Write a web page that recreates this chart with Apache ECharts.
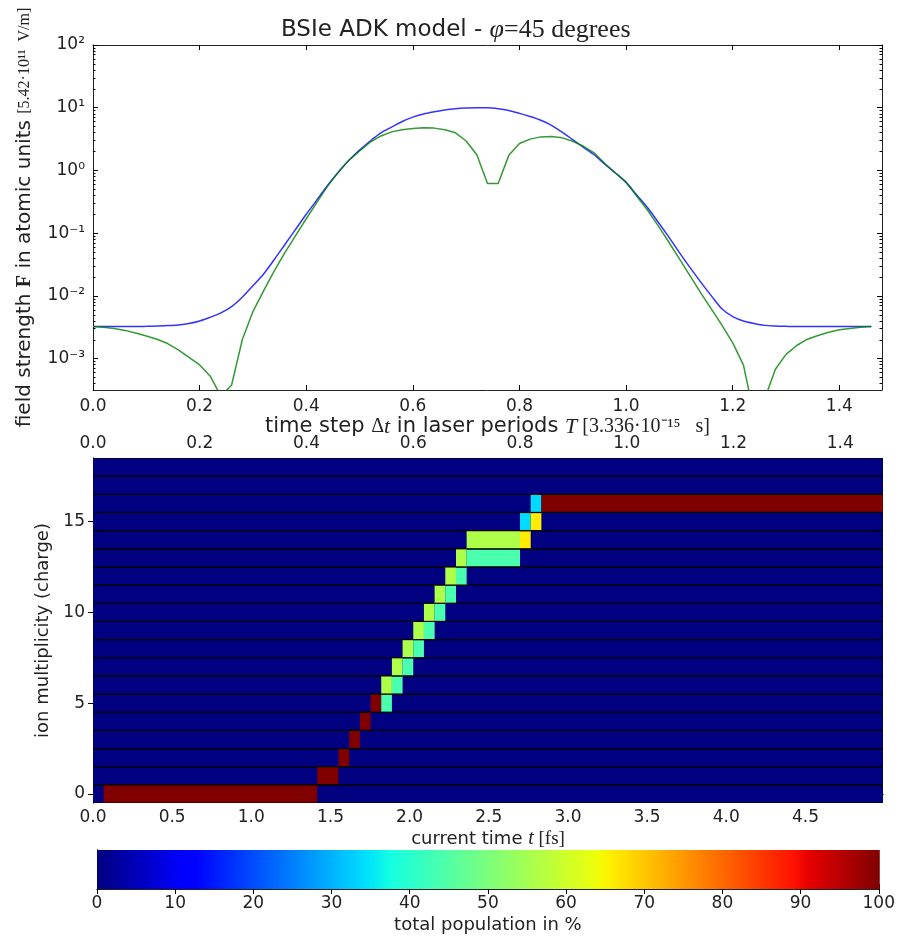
<!DOCTYPE html>
<html>
<head>
<meta charset="utf-8">
<script src="https://cdn.jsdelivr.net/npm/echarts@6/dist/echarts.min.js"></script>
<style>
  html, body { margin: 0; padding: 0; background: #fff; }
  #chart { width: 898px; height: 937px; }
</style>
</head>
<body>
<div id="chart"></div>
<script>
// time steps in laser periods (top plot)
const timeSteps = [0.00, 0.02, 0.04, 0.06, 0.08, 0.10, 0.12, 0.14, 0.16, 0.18,
  0.20, 0.22, 0.24, 0.26, 0.28, 0.30, 0.32, 0.34, 0.36, 0.38,
  0.40, 0.42, 0.44, 0.46, 0.48, 0.50, 0.52, 0.54, 0.56, 0.58,
  0.60, 0.62, 0.64, 0.66, 0.68, 0.70, 0.72, 0.74, 0.76, 0.78,
  0.80, 0.82, 0.84, 0.86, 0.88, 0.90, 0.92, 0.94, 0.96, 0.98,
  1.00, 1.02, 1.04, 1.06, 1.08, 1.10, 1.12, 1.14, 1.16, 1.18,
  1.20, 1.22, 1.24, 1.26, 1.28, 1.30, 1.32, 1.34, 1.36, 1.38,
  1.40, 1.42, 1.44, 1.46]

// field strength envelope (blue)
const fieldEnvelope = [3.24e-3, 3.24e-3, 3.24e-3, 3.24e-3, 3.24e-3, 3.27e-3, 3.31e-3, 3.36e-3, 3.45e-3, 3.63e-3,
  3.98e-3, 4.57e-3, 5.37e-3, 6.76e-3, 9.55e-3, 1.45e-2, 2.24e-2, 3.80e-2, 6.61e-2, 0.115,
  0.200, 0.339, 0.575, 0.933, 1.45, 2.11, 2.95, 3.98, 4.90, 6.03,
  7.08, 7.94, 8.61, 9.23, 9.66, 9.89, 10.0, 10.0, 9.66, 9.02,
  8.13, 7.24, 6.31, 5.25, 4.07, 3.09, 2.34, 1.78, 1.26, 0.912,
  0.646, 0.407, 0.257, 0.151, 8.71e-2, 4.90e-2, 2.82e-2, 1.66e-2, 1.00e-2, 6.17e-3,
  4.68e-3, 3.98e-3, 3.63e-3, 3.39e-3, 3.31e-3, 3.27e-3, 3.24e-3, 3.24e-3, 3.24e-3, 3.24e-3,
  3.24e-3, 3.24e-3, 3.24e-3, 3.24e-3]

// field strength |F| (green)
const fieldAbs = [3.24e-3, 3.16e-3, 3.02e-3, 2.82e-3, 2.57e-3, 2.29e-3, 2.04e-3, 1.74e-3, 1.38e-3, 1.05e-3,
  7.94e-4, 5.25e-4, 2.51e-4, 3.80e-4, 2.00e-3, 5.62e-3, 1.20e-2, 2.51e-2, 4.90e-2, 9.12e-2,
  0.170, 0.309, 0.562, 0.933, 1.45, 2.04, 2.82, 3.55, 4.12, 4.47,
  4.68, 4.79, 4.73, 4.47, 3.98, 2.95, 1.78, 0.617, 0.617, 1.74,
  2.69, 3.16, 3.43, 3.47, 3.31, 2.92, 2.43, 1.91, 1.29, 0.912,
  0.646, 0.389, 0.234, 0.132, 7.24e-2, 3.89e-2, 2.09e-2, 1.12e-2, 6.17e-3, 3.39e-3,
  1.78e-3, 7.94e-4, 1.26e-4, 2.29e-4, 6.76e-4, 1.17e-3, 1.62e-3, 2.04e-3, 2.34e-3, 2.63e-3,
  2.88e-3, 3.02e-3, 3.16e-3, 3.24e-3]

// ion charge states shown in the population map
const charges = [0, 1, 2, 3, 4, 5, 6, 7, 8, 9, 10, 11, 12, 13, 14, 15, 16, 17, 18]

// populated segments: [start period, end period, charge, population %]
const populations = [
  [0.02, 0.42, 0, 100],
  [0.42, 0.46, 1, 100],
  [0.46, 0.48, 2, 100],
  [0.48, 0.50, 3, 100],
  [0.50, 0.52, 4, 100],
  [0.52, 0.54, 5, 100], [0.54, 0.56, 5, 44],
  [0.54, 0.56, 6, 56], [0.56, 0.58, 6, 44],
  [0.56, 0.58, 7, 56], [0.58, 0.60, 7, 44],
  [0.58, 0.60, 8, 56], [0.60, 0.62, 8, 44],
  [0.60, 0.62, 9, 56], [0.62, 0.64, 9, 44],
  [0.62, 0.64, 10, 56], [0.64, 0.66, 10, 44],
  [0.64, 0.66, 11, 56], [0.66, 0.68, 11, 44],
  [0.66, 0.68, 12, 56], [0.68, 0.70, 12, 44],
  [0.68, 0.70, 13, 56], [0.70, 0.80, 13, 44],
  [0.70, 0.80, 14, 56], [0.80, 0.82, 14, 66],
  [0.80, 0.82, 15, 34], [0.82, 0.84, 15, 66],
  [0.82, 0.84, 16, 34], [0.84, 1.48, 16, 100]
]

// tick labels
const decadeTicks = [1e-3, 1e-2, 1e-1, 1, 10, 100]
const decadeLabels = ['10⁻³', '10⁻²', '10⁻¹', '10⁰', '10¹', '10²']
const chargeTicks = [0, 5, 10, 15]

// jet colormap (matplotlib segment data)
const jetR = [[0, 0], [0.35, 0], [0.66, 1], [0.89, 1], [1, 0.5]]
const jetG = [[0, 0], [0.125, 0], [0.375, 1], [0.64, 1], [0.91, 0], [1, 0]]
const jetB = [[0, 0.5], [0.11, 1], [0.34, 1], [0.65, 0], [1, 0]]
const seg = (pts, x) => {
  for (let i = 1; i < pts.length; i++) {
    if (x <= pts[i][0]) {
      const [x0, y0] = pts[i - 1], [x1, y1] = pts[i]
      return y0 + (y1 - y0) * (x - x0) / (x1 - x0)
    }
  }
  return pts[pts.length - 1][1]
}
const jet = v => {
  const x = Math.max(0, Math.min(1, v))
  const c = [jetR, jetG, jetB].map(p => Math.round(seg(p, x) * 255))
  return `rgb(${c[0]},${c[1]},${c[2]})`
}

// minor ticks of the log axis
const minorTicks = []
for (let e = -4; e <= 1; e++) {
  for (let m = 2; m <= 9; m++) {
    const v = m * Math.pow(10, e)
    if (v > Math.pow(10, -3.5) && v < 100) minorTicks.push(v)
  }
}

const font = 'DejaVu Sans'
const serif = 'Liberation Serif'
const txt = '#222'
const labelStyle = { fontFamily: font, fontSize: 17, color: txt }
const nameStyle = { fontFamily: font, fontSize: 18, color: txt }
const line = { show: true, lineStyle: { color: '#222', width: 1 } }
const tick = (len) => ({ show: true, inside: true, length: len, lineStyle: { color: '#000', width: 1 } })

const chart = echarts.init(document.getElementById('chart'), null, { renderer: 'canvas' })

const heatData = charges.map(q => [0, 1.48, q, 0]).concat(populations)
const cbData = []
for (let v = 0; v < 100; v += 0.25) cbData.push([v, v + 0.25, 0, v + 0.125])

chart.setOption({
  animation: false,
  backgroundColor: '#fff',
  title: {
    text: '{a|BSIe ADK model - }{b|φ}{c|=45 degrees}',
    left: 276,
    top: 12,
    textStyle: {
      rich: {
        a: { fontFamily: font, fontSize: 23, fontWeight: 'normal', color: txt },
        b: { fontFamily: serif, fontSize: 26, fontStyle: 'italic', fontWeight: 'normal', color: txt },
        c: { fontFamily: serif, fontSize: 26, fontWeight: 'normal', color: txt }
      }
    }
  },
  grid: [
    { left: 93, top: 45, width: 789, height: 345 },
    { left: 93, top: 458, width: 790, height: 345 },
    { left: 97, top: 850, width: 786, height: 39 }
  ],
  xAxis: [
    {
      gridIndex: 0, type: 'value', position: 'bottom', min: 0, max: 1.48, interval: 0.2,
      axisLine: line, axisTick: tick(5), splitLine: { show: false },
      axisLabel: Object.assign({ margin: 8, formatter: v => v.toFixed(1), showMaxLabel: false }, labelStyle),
      name: '{s|time step }{m|Δ}{i|t}{s| in laser periods }{i|T}{m| [3.336·10⁻¹⁵   s]}',
      nameLocation: 'middle', nameGap: 21,
      nameTextStyle: {
        rich: {
          s: { fontFamily: font, fontSize: 21, color: txt },
          i: { fontFamily: serif, fontSize: 22, fontStyle: 'italic', color: txt },
          m: { fontFamily: serif, fontSize: 20, color: txt }
        }
      }
    },
    {
      gridIndex: 0, type: 'value', position: 'top', min: 0, max: 1.48, interval: 0.2,
      axisLine: line, axisTick: tick(5), axisLabel: { show: false }, splitLine: { show: false }
    },
    {
      gridIndex: 1, type: 'value', position: 'top', min: 0, max: 1.48, interval: 0.2,
      axisLine: line, axisTick: tick(5), splitLine: { show: false },
      axisLabel: Object.assign({ margin: 6, formatter: v => v.toFixed(1), showMaxLabel: false }, labelStyle)
    },
    {
      gridIndex: 1, type: 'value', position: 'bottom', min: 0, max: 4.99, interval: 0.5,
      axisLine: line, axisTick: tick(5), splitLine: { show: false },
      axisLabel: Object.assign({ margin: 6, formatter: v => v.toFixed(1), showMaxLabel: false }, labelStyle),
      name: '{s|current time }{i|t}{m| [fs]}',
      nameLocation: 'middle', nameGap: 26,
      nameTextStyle: {
        rich: {
          s: { fontFamily: font, fontSize: 18, color: txt },
          i: { fontFamily: serif, fontSize: 20, fontStyle: 'italic', color: txt },
          m: { fontFamily: serif, fontSize: 19, color: txt }
        }
      }
    },
    {
      gridIndex: 2, type: 'value', position: 'bottom', min: 0, max: 100, interval: 10,
      axisLine: line, axisTick: tick(5), splitLine: { show: false },
      axisLabel: Object.assign({ margin: 6 }, labelStyle),
      name: 'total population in %', nameLocation: 'middle', nameGap: 27,
      nameTextStyle: nameStyle
    },
    {
      gridIndex: 2, type: 'value', position: 'top', min: 0, max: 100, interval: 10,
      axisLine: line, axisTick: tick(5), axisLabel: { show: false }, splitLine: { show: false }
    }
  ],
  yAxis: [
    {
      gridIndex: 0, type: 'log', position: 'left', min: Math.pow(10, -3.5), max: 100,
      axisLine: line, splitLine: { show: false },
      axisTick: Object.assign(tick(5), { customValues: decadeTicks }),
      axisLabel: Object.assign({
        margin: 8,
        customValues: decadeTicks,
        formatter: v => {
          const i = decadeTicks.findIndex(d => Math.abs(Math.log10(d) - Math.log10(v)) < 1e-6)
          return i >= 0 ? decadeLabels[i] : ''
        }
      }, labelStyle),
      name: '{s|field strength }{b|F}{s| in atomic units }{m|[5.42·10¹¹  V/m]}',
      nameLocation: 'middle', nameRotate: 90, nameGap: 58,
      nameTextStyle: {
        rich: {
          s: { fontFamily: font, fontSize: 20, color: txt },
          b: { fontFamily: serif, fontSize: 20, fontWeight: 'bold', color: txt },
          m: { fontFamily: serif, fontSize: 16, color: txt }
        }
      }
    },
    {
      gridIndex: 0, type: 'log', position: 'left', min: Math.pow(10, -3.5), max: 100,
      axisLine: { show: false }, splitLine: { show: false }, axisLabel: { show: false },
      axisTick: Object.assign(tick(2.5), { customValues: minorTicks })
    },
    {
      gridIndex: 0, type: 'log', position: 'right', min: Math.pow(10, -3.5), max: 100,
      axisLine: line, splitLine: { show: false }, axisLabel: { show: false },
      axisTick: Object.assign(tick(5), { customValues: decadeTicks })
    },
    {
      gridIndex: 0, type: 'log', position: 'right', min: Math.pow(10, -3.5), max: 100,
      axisLine: { show: false }, splitLine: { show: false }, axisLabel: { show: false },
      axisTick: Object.assign(tick(2.5), { customValues: minorTicks })
    },
    {
      gridIndex: 1, type: 'value', position: 'left', min: -0.5, max: 18.5,
      axisLine: line, splitLine: { show: false },
      axisTick: Object.assign(tick(5), { customValues: chargeTicks }),
      axisLabel: Object.assign({ margin: 8, customValues: chargeTicks }, labelStyle),
      name: 'ion multiplicity (charge)', nameLocation: 'middle', nameRotate: 90, nameGap: 39,
      nameTextStyle: nameStyle
    },
    {
      gridIndex: 1, type: 'value', position: 'right', min: -0.5, max: 18.5,
      axisLine: line, splitLine: { show: false }, axisLabel: { show: false },
      axisTick: Object.assign(tick(5), { customValues: chargeTicks })
    },
    {
      gridIndex: 2, type: 'value', position: 'left', min: 0, max: 1,
      axisLine: line, axisTick: { show: false }, axisLabel: { show: false }, splitLine: { show: false }
    },
    {
      gridIndex: 2, type: 'value', position: 'right', min: 0, max: 1,
      axisLine: line, axisTick: { show: false }, axisLabel: { show: false }, splitLine: { show: false }
    }
  ],
  series: [
    {
      type: 'line', xAxisIndex: 0, yAxisIndex: 0, showSymbol: false, clip: true,
      smooth: 0.3,
      data: timeSteps.map((t, i) => [t, fieldEnvelope[i]]),
      lineStyle: { color: '#0000ff', width: 1.5, opacity: 0.8 }
    },
    {
      type: 'line', xAxisIndex: 0, yAxisIndex: 0, showSymbol: false, clip: true,
      data: timeSteps.map((t, i) => [t, fieldAbs[i]]),
      lineStyle: { color: '#008000', width: 1.5, opacity: 0.8 }
    },
    {
      type: 'custom', xAxisIndex: 2, yAxisIndex: 4, clip: true,
      encode: { x: [0, 1], y: 2 },
      data: heatData,
      renderItem: (params, api) => {
        const p0 = api.coord([api.value(0), api.value(2) + 0.5])
        const p1 = api.coord([api.value(1), api.value(2) - 0.5])
        const edge = { stroke: '#000', lineWidth: 1.2 }
        return {
          type: 'group',
          children: [
            { type: 'rect', shape: { x: p0[0], y: p0[1], width: p1[0] - p0[0], height: p1[1] - p0[1] }, style: { fill: jet(api.value(3) / 100) } },
            { type: 'line', shape: { x1: p0[0], y1: p0[1], x2: p1[0], y2: p0[1] }, style: edge },
            { type: 'line', shape: { x1: p0[0], y1: p1[1], x2: p1[0], y2: p1[1] }, style: edge }
          ]
        }
      }
    },
    {
      type: 'custom', xAxisIndex: 4, yAxisIndex: 6,
      encode: { x: [0, 1], y: 2 },
      data: cbData,
      renderItem: (params, api) => {
        const p0 = api.coord([api.value(0), 1])
        const p1 = api.coord([api.value(1), 0])
        return {
          type: 'rect',
          shape: { x: p0[0], y: p0[1], width: p1[0] - p0[0] + 1, height: p1[1] - p0[1] },
          style: { fill: jet(api.value(3) / 100) }
        }
      }
    }
  ]
})
</script>
</body>
</html>
